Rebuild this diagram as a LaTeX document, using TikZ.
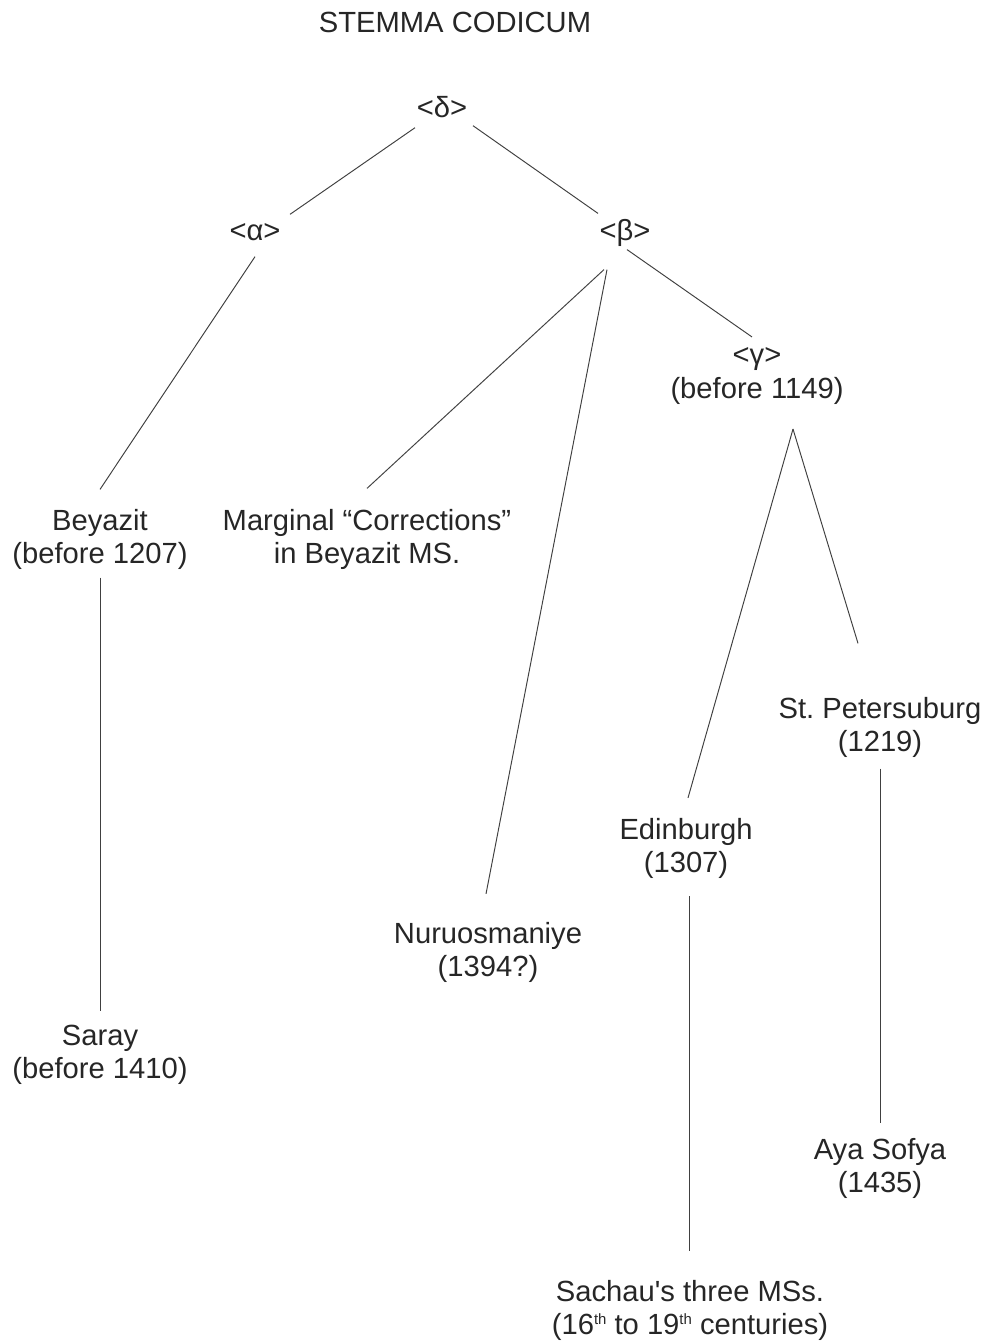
\documentclass[tikz,border=0pt]{standalone}
\usepackage{fontspec}
\setmainfont{Liberation Sans}
\usepackage[dvipsnames]{xcolor}

\newcommand{\supth}{\raisebox{5.4pt}{\fontsize{8.5}{8.5}\selectfont th}}

\begin{document}
\begin{tikzpicture}[-,thin,auto,line width=0.55pt,draw=black!75,
    ms node/.style={inner sep=0pt,outer sep=0pt,align=center,text=black!85,font=\fontsize{16.6}{18.8}\selectfont}]

            \useasboundingbox (0,0) rectangle (19.82,-26.88);

            \node[ms node] (title) at (9.10,-0.44) {STEMMA CODICUM};

            \node[ms node] (delta) at (8.84,-2.14) {<δ>};
            \node[ms node] (alpha) at (5.10,-4.64) {<α>};
            \node[ms node] (beta) at (12.50,-4.66) {<β>};
            \node[ms node] (gamma) at (15.14,-7.52) {<γ>\\(before 1149)};

            \node[ms node] (beyazit) at (2.00,-10.79) {Beyazit\\(before 1207)};
            \node[ms node] (marginal) at (7.34,-10.79) {Marginal “Corrections”\\in Beyazit MS.};
            \node[ms node] (nuru) at (9.76,-19.04) {Nuruosmaniye\\(1394?)};
            \node[ms node] (edin) at (13.72,-16.96) {Edinburgh\\(1307)};
            \node[ms node] (stp) at (17.60,-14.55) {St.\ Petersuburg\\(1219)};
            \node[ms node] (saray) at (2.00,-21.10) {Saray\\(before 1410)};
            \node[ms node] (aya) at (17.60,-23.36) {Aya Sofya\\(1435)};
            \node[ms node] (sachau) at (13.80,-26.20) {Sachau\textquotesingle s three MSs.\\(16\supth{} to 19\supth{} centuries)};

            \coordinate (apex) at ([xshift=0.72cm,yshift=-0.50cm]gamma.south);

            \draw[-] ([xshift=-0.54cm,yshift=-0.20cm]delta.south) to ([xshift=0.70cm,yshift=0.18cm]alpha.north);
            \draw[-] ([xshift=0.62cm,yshift=-0.16cm]delta.south) to ([xshift=-0.54cm,yshift=0.12cm]beta.north);
            \draw[-] ([yshift=-0.32cm]alpha.south) to ([yshift=0.40cm]beyazit.north);
            \draw[-] ([xshift=-0.42cm,yshift=-0.46cm]beta.south) to ([yshift=0.42cm]marginal.north);
            \draw[-] ([xshift=-0.36cm,yshift=-0.46cm]beta.south) to ([xshift=-0.04cm,yshift=0.56cm]nuru.north);
            \draw[-] ([xshift=0.04cm,yshift=-0.06cm]beta.south) to ([xshift=-0.10cm,yshift=0.22cm]gamma.north);
            \draw[-] (apex) to ([xshift=0.04cm,yshift=0.40cm]edin.north);
            \draw[-] (apex) to ([xshift=-0.44cm,yshift=1.08cm]stp.north);
            \draw[-] ([yshift=-0.16cm]beyazit.south) to ([yshift=0.28cm]saray.north);
            \draw[-] ([xshift=0.06cm,yshift=-0.36cm]edin.south) to ([xshift=-0.02cm,yshift=0.58cm]sachau.north);
            \draw[-] ([yshift=-0.22cm]stp.south) to ([yshift=0.30cm]aya.north);

            ;
        \end{tikzpicture}
\end{document}
